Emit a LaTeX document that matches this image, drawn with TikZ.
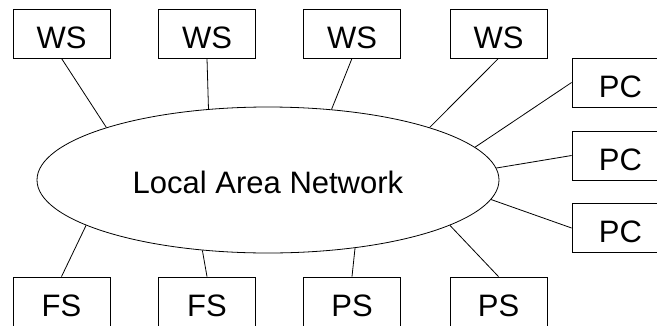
\documentclass[tikz,border=0pt]{standalone}
\usepackage{fontspec}
\setmainfont{Liberation Sans}
\usetikzlibrary{shapes.geometric}

\tikzset{station/.style={draw, line width=.8pt, minimum width=97pt, minimum height=49pt,
    inner sep=0pt, text height=29pt, text depth=0pt},
  net/.style={draw, ellipse, line width=.8pt, minimum width=462pt, minimum height=146pt,
    inner sep=0pt, text height=27pt, text depth=0pt},
  link/.style={line width=.8pt}}

\begin{document}
\begin{tikzpicture}[x=1pt,y=-1pt,font=\fontsize{31}{37}\selectfont]
  \useasboundingbox (0,0) rectangle (657,325);
  \clip (0,0) rectangle (657,325);
  % the network
  \node [net] (lan) at (268,180) {Local Area Network};
  % workstations
  \node [station] (ws1) at (61.5,33.5) {WS};
  \node [station] (ws2) at (207,33.5) {WS};
  \node [station] (ws3) at (352,33.5) {WS};
  \node [station] (ws4) at (498.5,33.5) {WS};
  % personal computers
  \node [station] (pc1) at (620.5,82.5) {PC};
  \node [station] (pc2) at (620.5,155.5) {PC};
  \node [station] (pc3) at (620.5,228) {PC};
  % file and print servers
  \node [station] (fs1) at (61.5,301.5) {FS};
  \node [station] (fs2) at (207,301.5) {FS};
  \node [station] (ps1) at (352,301.5) {PS};
  \node [station] (ps2) at (498.5,301.5) {PS};
  \draw [link] (ws1.south) -- (lan.162.3);
  \draw [link] (ws2.south) -- (lan.130.7);
  \draw [link] (ws3.south) -- (lan.48.9);
  \draw [link] (ws4.south) -- (lan.18);
  \draw [link] (pc1.west) -- (lan.9.7);
  \draw [link] (pc2.west) -- (lan.3.8);
  \draw [link] (pc3.west) -- (lan.-5.4);
  \draw [link] (fs1.north) -- (lan.194);
  \draw [link] (fs2.north) -- (lan.227.6);
  \draw [link] (ps1.north) -- (lan.322.1);
  \draw [link] (ps2.north) -- (lan.346);
\end{tikzpicture}
\end{document}
